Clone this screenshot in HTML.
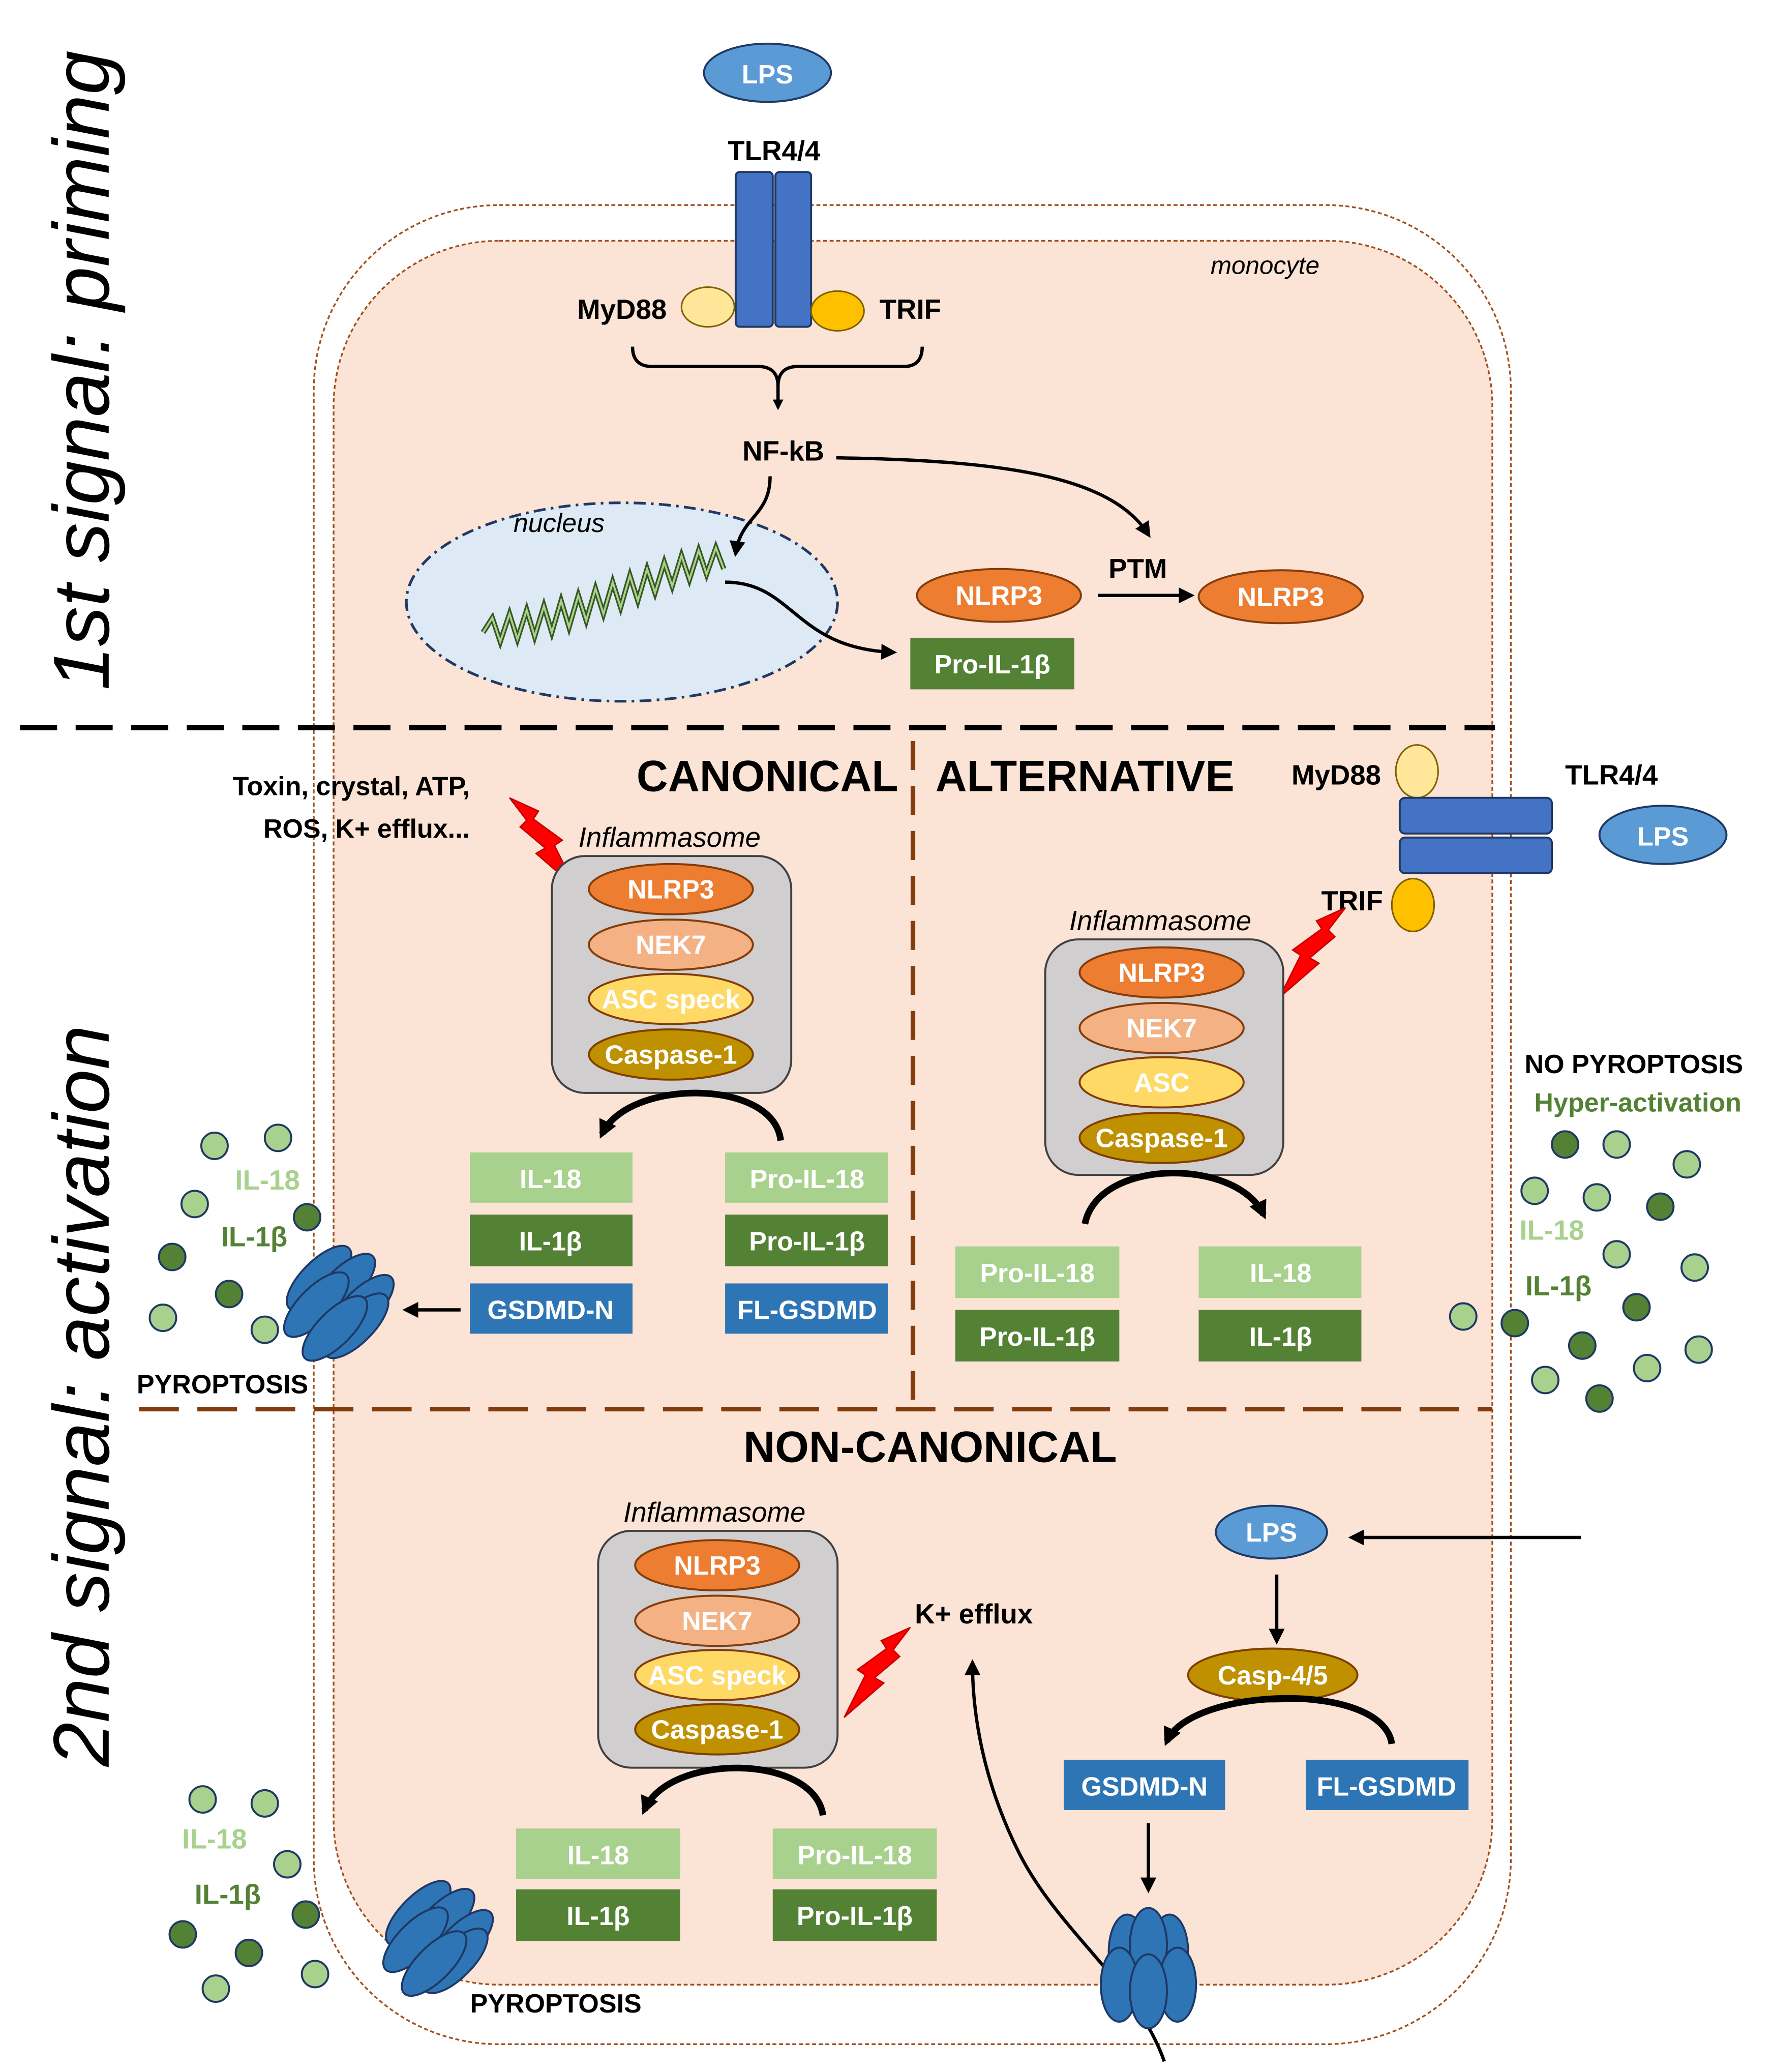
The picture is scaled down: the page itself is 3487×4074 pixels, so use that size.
<!DOCTYPE html>
<html><head><meta charset="utf-8"><style>
html,body{margin:0;padding:0;background:#fff;}
svg{display:block;}
text{font-family:"Liberation Sans",sans-serif;}
.b{font-weight:bold;}
.w{fill:#fff;font-weight:bold;font-size:20px;}
</style></head><body>
<svg width="3487" height="4074" viewBox="0 0 1340 1566" xmlns="http://www.w3.org/2000/svg">
<defs>
<marker id="ah" markerWidth="8" markerHeight="8" refX="6" refY="4" orient="auto" markerUnits="userSpaceOnUse"><path d="M0,0 L8,4 L0,8 Z" fill="#000"/></marker>
<marker id="ah2" markerWidth="16" markerHeight="16" refX="10" refY="8" orient="auto" markerUnits="userSpaceOnUse"><path d="M0,1 L14,8 L0,15 Z" fill="#000"/></marker>
<marker id="ah3" markerWidth="12" markerHeight="12" refX="9" refY="6" orient="auto" markerUnits="userSpaceOnUse"><path d="M0,0 L12,6 L0,12 Z" fill="#000"/></marker>
<g id="pore">
<ellipse cx="-14" cy="-14" rx="13" ry="32" transform="rotate(45 -14 -14)" fill="#2e75b6" stroke="#1f3864" stroke-width="1.5"/>
<ellipse cx="4" cy="-8" rx="13" ry="32" transform="rotate(45 4 -8)" fill="#2e75b6" stroke="#1f3864" stroke-width="1.5"/>
<ellipse cx="-16" cy="6" rx="13" ry="32" transform="rotate(45 -16 6)" fill="#2e75b6" stroke="#1f3864" stroke-width="1.5"/>
<ellipse cx="18" cy="8" rx="13" ry="32" transform="rotate(45 18 8)" fill="#2e75b6" stroke="#1f3864" stroke-width="1.5"/>
<ellipse cx="14" cy="22" rx="13" ry="32" transform="rotate(45 14 22)" fill="#2e75b6" stroke="#1f3864" stroke-width="1.5"/>
<ellipse cx="-2" cy="24" rx="13" ry="32" transform="rotate(45 -2 24)" fill="#2e75b6" stroke="#1f3864" stroke-width="1.5"/>
</g>
<g id="bolt"><polygon points="0,0 22,10 18,16 40,32 34,36 50,68 20,42 27,38 8,22 13,17" fill="#ff0000" stroke="#c00000" stroke-width="1"/></g>
</defs>

<!-- cell -->
<rect x="237" y="155" width="905" height="1390" rx="140" fill="#fff" stroke="#a0501e" stroke-width="1.3" stroke-dasharray="3,2"/>
<rect x="252" y="182" width="876" height="1318" rx="125" fill="#fbe3d5" stroke="#a0501e" stroke-width="1.3" stroke-dasharray="3,2"/>
<text x="915" y="207" font-size="19" font-style="italic">monocyte</text>

<!-- side titles -->
<text transform="translate(82,280) rotate(-90)" font-size="60" font-style="italic" text-anchor="middle">1st signal: priming</text>
<text transform="translate(82,1055) rotate(-90)" font-size="60" font-style="italic" text-anchor="middle">2nd signal: activation</text>

<!-- priming -->
<ellipse cx="580" cy="55" rx="48" ry="22" fill="#5b9bd5" stroke="#1f3864" stroke-width="1.5"/>
<text x="580" y="63" text-anchor="middle" class="w">LPS</text>
<text x="585" y="121" text-anchor="middle" class="b" font-size="21">TLR4/4</text>
<rect x="556" y="130" width="28" height="117" rx="3" fill="#4472c4" stroke="#1f3864" stroke-width="1.5"/>
<rect x="586" y="130" width="27" height="117" rx="3" fill="#4472c4" stroke="#1f3864" stroke-width="1.5"/>
<ellipse cx="535" cy="232" rx="20" ry="15" fill="#ffe699" stroke="#7f6000" stroke-width="1.2"/>
<ellipse cx="633" cy="235" rx="20" ry="15" fill="#ffc000" stroke="#7f6000" stroke-width="1.2"/>
<text x="470" y="241" text-anchor="middle" class="b" font-size="21">MyD88</text>
<text x="688" y="241" text-anchor="middle" class="b" font-size="21">TRIF</text>
<path d="M478,262 Q478,277 493,277 L573,277 Q588,277 588,292 Q588,277 603,277 L683,277 Q697,277 697,262" fill="none" stroke="#000" stroke-width="2.5"/>
<line x1="588" y1="290" x2="588" y2="308" stroke="#000" stroke-width="2.5" marker-end="url(#ah)"/>
<text x="592" y="348" text-anchor="middle" class="b" font-size="21">NF-kB</text>
<ellipse cx="470" cy="455" rx="163" ry="75" fill="#dde9f5" stroke="#203864" stroke-width="2" stroke-dasharray="9,4,2,4"/>
<text x="388" y="402" font-size="20" font-style="italic">nucleus</text>
<path d="M365,478 L372,467 L378,485 L385,464 L391,483 L398,461 L404,481 L411,458 L417,478 L424,454 L430,474 L437,450 L443,469 L450,445 L456,464 L463,440 L469,459 L476,435 L482,454 L489,430 L495,448 L502,425 L508,443 L515,420 L521,438 L528,416 L534,434 L541,414 L547,430" fill="none" stroke="#385723" stroke-width="4"/>
<path d="M365,478 L372,467 L378,485 L385,464 L391,483 L398,461 L404,481 L411,458 L417,478 L424,454 L430,474 L437,450 L443,469 L450,445 L456,464 L463,440 L469,459 L476,435 L482,454 L489,430 L495,448 L502,425 L508,443 L515,420 L521,438 L528,416 L534,434 L541,414 L547,430" fill="none" stroke="#a9d18e" stroke-width="1.5"/>
<path d="M582,360 C582,390 560,390 556,418" fill="none" stroke="#000" stroke-width="2.5" marker-end="url(#ah3)"/>
<path d="M632,346 C760,348 840,360 868,404" fill="none" stroke="#000" stroke-width="2.5" marker-end="url(#ah3)"/>
<path d="M548,440 C600,440 600,490 675,493" fill="none" stroke="#000" stroke-width="2.5" marker-end="url(#ah3)"/>
<ellipse cx="755" cy="450" rx="62" ry="20" fill="#ed7d31" stroke="#843c0c" stroke-width="1.5"/>
<text x="755" y="457" text-anchor="middle" class="w">NLRP3</text>
<text x="860" y="437" text-anchor="middle" class="b" font-size="21">PTM</text>
<line x1="830" y1="450" x2="900" y2="450" stroke="#000" stroke-width="2.5" marker-end="url(#ah3)"/>
<ellipse cx="968" cy="451" rx="62" ry="20" fill="#ed7d31" stroke="#843c0c" stroke-width="1.5"/>
<text x="968" y="458" text-anchor="middle" class="w">NLRP3</text>
<rect x="688" y="482" width="124" height="39" fill="#548235"/>
<text x="750" y="509" text-anchor="middle" class="w">Pro-IL-1β</text>

<line x1="15" y1="550" x2="1130" y2="550" stroke="#000" stroke-width="4" stroke-dasharray="28,14"/>

<!-- dividers -->
<line x1="690" y1="560" x2="690" y2="1060" stroke="#843c0c" stroke-width="3.5" stroke-dasharray="22,12"/>
<line x1="105" y1="1065" x2="1128" y2="1065" stroke="#843c0c" stroke-width="3.5" stroke-dasharray="30,14"/>

<text x="580" y="598" text-anchor="middle" class="b" font-size="33">CANONICAL</text>
<text x="820" y="598" text-anchor="middle" class="b" font-size="33">ALTERNATIVE</text>

<text x="355" y="601" text-anchor="end" class="b" font-size="20">Toxin, crystal, ATP,</text>
<text x="355" y="633" text-anchor="end" class="b" font-size="20">ROS, K+ efflux...</text>
<use href="#bolt" transform="translate(385,603)"/>
<text x="506" y="640" text-anchor="middle" font-size="21" font-style="italic">Inflammasome</text>

<!-- canonical inflammasome -->
<rect x="417" y="647" width="181" height="179" rx="25" fill="#d0cece" stroke="#404040" stroke-width="1.5"/>
<ellipse cx="507" cy="672" rx="62" ry="19" fill="#ed7d31" stroke="#843c0c" stroke-width="1.5"/>
<text x="507" y="679" text-anchor="middle" class="w">NLRP3</text>
<ellipse cx="507" cy="714" rx="62" ry="19" fill="#f4b183" stroke="#843c0c" stroke-width="1.5"/>
<text x="507" y="721" text-anchor="middle" class="w">NEK7</text>
<ellipse cx="507" cy="755" rx="62" ry="19" fill="#ffd966" stroke="#843c0c" stroke-width="1.5"/>
<text x="507" y="762" text-anchor="middle" class="w">ASC speck</text>
<ellipse cx="507" cy="797" rx="62" ry="19" fill="#bf9000" stroke="#7f3f00" stroke-width="1.5"/>
<text x="507" y="804" text-anchor="middle" class="w">Caspase-1</text>
<path d="M590,862 C585,815 475,815 455,857" fill="none" stroke="#000" stroke-width="5" marker-end="url(#ah2)"/>
<rect x="355" y="871" width="123" height="38" fill="#a9d18e"/><text x="416" y="898" text-anchor="middle" class="w">IL-18</text>
<rect x="355" y="918" width="123" height="39" fill="#548235"/><text x="416" y="945" text-anchor="middle" class="w">IL-1β</text>
<rect x="355" y="970" width="123" height="38" fill="#2e75b6"/><text x="416" y="997" text-anchor="middle" class="w">GSDMD-N</text>
<rect x="548" y="871" width="123" height="38" fill="#a9d18e"/><text x="610" y="898" text-anchor="middle" class="w">Pro-IL-18</text>
<rect x="548" y="918" width="123" height="39" fill="#548235"/><text x="610" y="945" text-anchor="middle" class="w">Pro-IL-1β</text>
<rect x="548" y="970" width="123" height="38" fill="#2e75b6"/><text x="610" y="997" text-anchor="middle" class="w">FL-GSDMD</text>
<line x1="348" y1="990" x2="307" y2="990" stroke="#000" stroke-width="2.5" marker-end="url(#ah3)"/>
<use href="#pore" transform="translate(255,980)"/>
<g stroke="#203864" stroke-width="1.5">
<circle cx="162" cy="866" r="10" fill="#a9d18e"/><circle cx="210" cy="860" r="10" fill="#a9d18e"/><circle cx="147" cy="910" r="10" fill="#a9d18e"/><circle cx="123" cy="996" r="10" fill="#a9d18e"/><circle cx="200" cy="1005" r="10" fill="#a9d18e"/>
<circle cx="232" cy="920" r="10" fill="#548235"/><circle cx="130" cy="950" r="10" fill="#548235"/><circle cx="173" cy="978" r="10" fill="#548235"/>
</g>
<text x="202" y="899" text-anchor="middle" class="b" font-size="21" fill="#a9d18e">IL-18</text>
<text x="192" y="942" text-anchor="middle" class="b" font-size="21" fill="#548235">IL-1β</text>
<text x="168" y="1053" text-anchor="middle" class="b" font-size="20">PYROPTOSIS</text>

<!-- alternative -->
<text x="1010" y="593" text-anchor="middle" class="b" font-size="21">MyD88</text>
<text x="1183" y="593" class="b" font-size="21">TLR4/4</text>
<ellipse cx="1071" cy="583" rx="16" ry="20" fill="#ffe699" stroke="#7f6000" stroke-width="1.2"/>
<ellipse cx="1068" cy="684" rx="16" ry="20" fill="#ffc000" stroke="#7f6000" stroke-width="1.2"/>
<rect x="1058" y="603" width="115" height="27" rx="4" fill="#4472c4" stroke="#1f3864" stroke-width="1.5"/>
<rect x="1058" y="633" width="115" height="27" rx="4" fill="#4472c4" stroke="#1f3864" stroke-width="1.5"/>
<ellipse cx="1257" cy="631" rx="48" ry="22" fill="#5b9bd5" stroke="#1f3864" stroke-width="1.5"/>
<text x="1257" y="639" text-anchor="middle" class="w">LPS</text>
<text x="1022" y="688" text-anchor="middle" class="b" font-size="21">TRIF</text>
<use href="#bolt" transform="translate(1017,686) scale(-1,1)"/>
<text x="877" y="703" text-anchor="middle" font-size="21" font-style="italic">Inflammasome</text>
<rect x="790" y="710" width="180" height="178" rx="25" fill="#d0cece" stroke="#404040" stroke-width="1.5"/>
<ellipse cx="878" cy="735" rx="62" ry="19" fill="#ed7d31" stroke="#843c0c" stroke-width="1.5"/>
<text x="878" y="742" text-anchor="middle" class="w">NLRP3</text>
<ellipse cx="878" cy="777" rx="62" ry="19" fill="#f4b183" stroke="#843c0c" stroke-width="1.5"/>
<text x="878" y="784" text-anchor="middle" class="w">NEK7</text>
<ellipse cx="878" cy="818" rx="62" ry="19" fill="#ffd966" stroke="#843c0c" stroke-width="1.5"/>
<text x="878" y="825" text-anchor="middle" class="w">ASC</text>
<ellipse cx="878" cy="860" rx="62" ry="19" fill="#bf9000" stroke="#7f3f00" stroke-width="1.5"/>
<text x="878" y="867" text-anchor="middle" class="w">Caspase-1</text>
<path d="M820,925 C830,875 935,875 955,918" fill="none" stroke="#000" stroke-width="5" marker-end="url(#ah2)"/>
<rect x="722" y="942" width="124" height="39" fill="#a9d18e"/><text x="784" y="969" text-anchor="middle" class="w">Pro-IL-18</text>
<rect x="722" y="990" width="124" height="39" fill="#548235"/><text x="784" y="1017" text-anchor="middle" class="w">Pro-IL-1β</text>
<rect x="906" y="942" width="123" height="39" fill="#a9d18e"/><text x="968" y="969" text-anchor="middle" class="w">IL-18</text>
<rect x="906" y="990" width="123" height="39" fill="#548235"/><text x="968" y="1017" text-anchor="middle" class="w">IL-1β</text>
<text x="1235" y="811" text-anchor="middle" class="b" font-size="20">NO PYROPTOSIS</text>
<text x="1238" y="840" text-anchor="middle" class="b" font-size="20" fill="#548235">Hyper-activation</text>
<g stroke="#203864" stroke-width="1.5">
<circle cx="1183" cy="865" r="10" fill="#548235"/><circle cx="1255" cy="912" r="10" fill="#548235"/><circle cx="1237" cy="988" r="10" fill="#548235"/><circle cx="1196" cy="1017" r="10" fill="#548235"/><circle cx="1209" cy="1057" r="10" fill="#548235"/><circle cx="1145" cy="1000" r="10" fill="#548235"/>
<circle cx="1222" cy="865" r="10" fill="#a9d18e"/><circle cx="1275" cy="880" r="10" fill="#a9d18e"/><circle cx="1160" cy="900" r="10" fill="#a9d18e"/><circle cx="1207" cy="905" r="10" fill="#a9d18e"/><circle cx="1222" cy="948" r="10" fill="#a9d18e"/><circle cx="1281" cy="958" r="10" fill="#a9d18e"/><circle cx="1106" cy="995" r="10" fill="#a9d18e"/><circle cx="1284" cy="1020" r="10" fill="#a9d18e"/><circle cx="1245" cy="1034" r="10" fill="#a9d18e"/><circle cx="1168" cy="1043" r="10" fill="#a9d18e"/>
</g>
<text x="1173" y="937" text-anchor="middle" class="b" font-size="21" fill="#a9d18e">IL-18</text>
<text x="1178" y="979" text-anchor="middle" class="b" font-size="21" fill="#548235">IL-1β</text>

<!-- non-canonical -->
<text x="703" y="1105" text-anchor="middle" class="b" font-size="33">NON-CANONICAL</text>
<text x="540" y="1150" text-anchor="middle" font-size="21" font-style="italic">Inflammasome</text>
<rect x="452" y="1157" width="181" height="179" rx="25" fill="#d0cece" stroke="#404040" stroke-width="1.5"/>
<ellipse cx="542" cy="1183" rx="62" ry="19" fill="#ed7d31" stroke="#843c0c" stroke-width="1.5"/>
<text x="542" y="1190" text-anchor="middle" class="w">NLRP3</text>
<ellipse cx="542" cy="1225" rx="62" ry="19" fill="#f4b183" stroke="#843c0c" stroke-width="1.5"/>
<text x="542" y="1232" text-anchor="middle" class="w">NEK7</text>
<ellipse cx="542" cy="1266" rx="62" ry="19" fill="#ffd966" stroke="#843c0c" stroke-width="1.5"/>
<text x="542" y="1273" text-anchor="middle" class="w">ASC speck</text>
<ellipse cx="542" cy="1307" rx="62" ry="19" fill="#bf9000" stroke="#7f3f00" stroke-width="1.5"/>
<text x="542" y="1314" text-anchor="middle" class="w">Caspase-1</text>
<use href="#bolt" transform="translate(688,1230) scale(-1,1)"/>
<text x="736" y="1227" text-anchor="middle" class="b" font-size="21">K+ efflux</text>
<path d="M880,1558 C860,1500 800,1460 770,1400 C745,1350 735,1300 735,1257" fill="none" stroke="#000" stroke-width="2.5" marker-end="url(#ah3)"/>
<path d="M622,1372 C615,1325 505,1325 487,1368" fill="none" stroke="#000" stroke-width="5" marker-end="url(#ah2)"/>
<rect x="390" y="1382" width="124" height="38" fill="#a9d18e"/><text x="452" y="1409" text-anchor="middle" class="w">IL-18</text>
<rect x="390" y="1428" width="124" height="39" fill="#548235"/><text x="452" y="1455" text-anchor="middle" class="w">IL-1β</text>
<rect x="584" y="1382" width="124" height="38" fill="#a9d18e"/><text x="646" y="1409" text-anchor="middle" class="w">Pro-IL-18</text>
<rect x="584" y="1428" width="124" height="39" fill="#548235"/><text x="646" y="1455" text-anchor="middle" class="w">Pro-IL-1β</text>
<use href="#pore" transform="translate(330,1460)"/>
<text x="420" y="1521" text-anchor="middle" class="b" font-size="20">PYROPTOSIS</text>
<g stroke="#203864" stroke-width="1.5">
<circle cx="153" cy="1360" r="10" fill="#a9d18e"/><circle cx="200" cy="1363" r="10" fill="#a9d18e"/><circle cx="217" cy="1409" r="10" fill="#a9d18e"/><circle cx="238" cy="1492" r="10" fill="#a9d18e"/><circle cx="163" cy="1503" r="10" fill="#a9d18e"/>
<circle cx="231" cy="1447" r="10" fill="#548235"/><circle cx="138" cy="1462" r="10" fill="#548235"/><circle cx="188" cy="1476" r="10" fill="#548235"/>
</g>
<text x="162" y="1397" text-anchor="middle" class="b" font-size="21" fill="#a9d18e">IL-18</text>
<text x="172" y="1439" text-anchor="middle" class="b" font-size="21" fill="#548235">IL-1β</text>

<ellipse cx="961" cy="1158" rx="42" ry="20" fill="#5b9bd5" stroke="#1f3864" stroke-width="1.5"/>
<text x="961" y="1165" text-anchor="middle" class="w">LPS</text>
<line x1="1195" y1="1162" x2="1022" y2="1162" stroke="#000" stroke-width="2.5" marker-end="url(#ah3)"/>
<line x1="965" y1="1190" x2="965" y2="1240" stroke="#000" stroke-width="2.5" marker-end="url(#ah3)"/>
<ellipse cx="962" cy="1266" rx="64" ry="20" fill="#bf9000" stroke="#7f3f00" stroke-width="1.5"/>
<text x="962" y="1273" text-anchor="middle" class="w">Casp-4/5</text>
<path d="M1052,1318 C1045,1270 900,1275 882,1316" fill="none" stroke="#000" stroke-width="5" marker-end="url(#ah2)"/>
<rect x="804" y="1330" width="122" height="38" fill="#2e75b6"/><text x="865" y="1357" text-anchor="middle" class="w">GSDMD-N</text>
<rect x="987" y="1330" width="123" height="38" fill="#2e75b6"/><text x="1048" y="1357" text-anchor="middle" class="w">FL-GSDMD</text>
<line x1="868" y1="1378" x2="868" y2="1428" stroke="#000" stroke-width="2.5" marker-end="url(#ah3)"/>
<g stroke="#1f3864" stroke-width="1.5" fill="#2e75b6">
<ellipse cx="852" cy="1475" rx="14" ry="28"/><ellipse cx="884" cy="1475" rx="14" ry="28"/><ellipse cx="868" cy="1470" rx="14" ry="28"/>
<ellipse cx="846" cy="1500" rx="14" ry="28"/><ellipse cx="890" cy="1500" rx="14" ry="28"/><ellipse cx="868" cy="1505" rx="14" ry="28"/>
</g>
</svg>
</body></html>
